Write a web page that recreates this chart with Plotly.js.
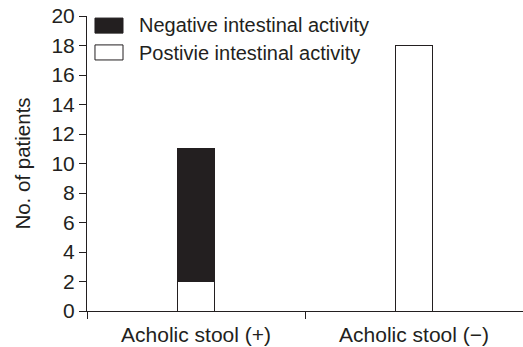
<!DOCTYPE html>
<html>
<head>
<meta charset="utf-8">
<script src="https://cdn.plot.ly/plotly-3.0.1.min.js"></script>
<style>html,body{margin:0;padding:0;background:#fff;}#chart{width:523px;height:347px;}</style>
</head>
<body>
<div id="chart"></div>
<script>
const categories = ["Acholic stool (+)", "Acholic stool (\u2212)"];
const positiveActivity = [2, 18];
const negativeActivity = [9, 0];
const seriesNames = ["Postivie intestinal activity", "Negative intestinal activity"];
const yTicks = [0, 2, 4, 6, 8, 10, 12, 14, 16, 18, 20];

const ink = "#231f20";
const font = "Liberation Sans, Arial, sans-serif";

const traces = [
  {type: "bar", x: categories, y: positiveActivity, name: seriesNames[0],
   marker: {color: "#ffffff", line: {color: ink, width: 1}}, showlegend: false},
  {type: "bar", x: categories, y: negativeActivity, name: seriesNames[1],
   marker: {color: ink, line: {color: ink, width: 1}}, showlegend: false}
];

const layout = {
  width: 523, height: 347,
  margin: {l: 87, r: 0, t: 16, b: 36, pad: 0},
  paper_bgcolor: "#fff", plot_bgcolor: "#fff",
  barmode: "stack", bargap: 0.83,
  font: {family: font, color: ink, size: 20},
  xaxis: {
    type: "category", showline: true, linecolor: ink, linewidth: 1,
    ticks: "outside", tickson: "boundaries", ticklen: 7, tickcolor: ink,
    showgrid: false, zeroline: false, tickfont: {size: 21, color: ink},
    ticklabelstandoff: 5
  },
  yaxis: {
    range: [0, 20], tickvals: yTicks, showline: true, linecolor: ink, linewidth: 1,
    ticks: "outside", ticklen: 7, tickcolor: ink, showgrid: false, zeroline: false,
    tickfont: {size: 21, color: ink},
    title: {text: "No. of patients", font: {size: 20.5, color: ink}, standoff: 15}
  },
  showlegend: false,
  shapes: [
    {type: "rect", xref: "paper", yref: "paper", x0: 0.0183, x1: 0.0826, y0: 0.942, y1: 0.993,
     fillcolor: ink, line: {color: ink, width: 1}},
    {type: "rect", xref: "paper", yref: "paper", x0: 0.0183, x1: 0.0826, y0: 0.851, y1: 0.902,
     fillcolor: "#fff", line: {color: ink, width: 1}}
  ],
  annotations: [
    {xref: "paper", yref: "paper", x: 0.115, y: 0.968, xanchor: "left", yanchor: "middle",
     text: seriesNames[1], showarrow: false, font: {size: 20, color: ink}},
    {xref: "paper", yref: "paper", x: 0.115, y: 0.876, xanchor: "left", yanchor: "middle",
     text: seriesNames[0], showarrow: false, font: {size: 20, color: ink}}
  ]
};

Plotly.newPlot("chart", traces, layout, {displayModeBar: false, staticPlot: true});
</script>
</body>
</html>
